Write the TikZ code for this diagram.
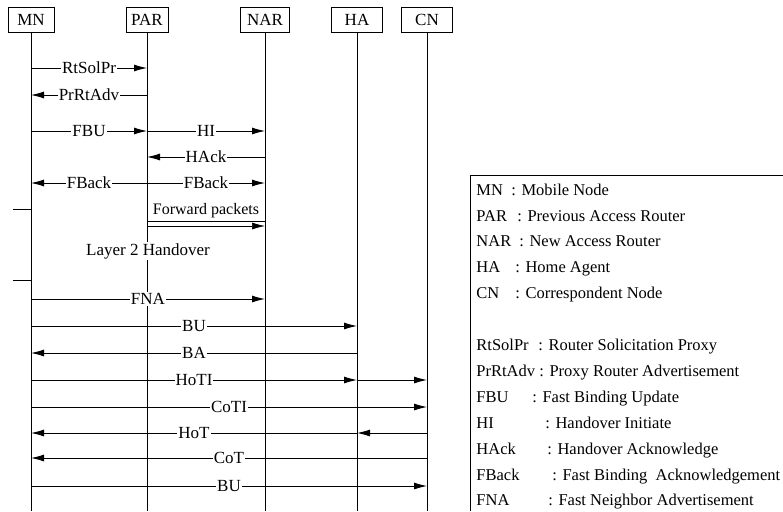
\documentclass[tikz,border=0pt]{standalone}
\usepackage{fontspec}
\setmainfont{Liberation Serif}
\usetikzlibrary{arrows.meta}

\begin{document}
\begin{tikzpicture}[x=1pt, y=-1pt, line width=0.9pt,
	every node/.style={font=\fontsize{17}{20}\selectfont},
	entity/.style={draw, minimum height=25pt, inner sep=2pt},
	msg/.style={-{Latex[length=13pt,width=7pt]}},
	msglabel/.style={fill=white, inner sep=1pt, midway},
	legend/.style={anchor=base west, inner sep=0pt, font=\fontsize{16.5}{19}\selectfont}]
	\useasboundingbox (0,0) rectangle (783,511);
	\node[entity, minimum width=46pt] (mn) at (31,20) {MN};
	\node[entity, minimum width=42pt] (par) at (147,20) {PAR};
	\node[entity, minimum width=49pt] (nar) at (265,20) {NAR};
	\node[entity, minimum width=51pt] (ha) at (357,20) {HA};
	\node[entity, minimum width=51pt] (cn) at (427,20) {CN};
	\foreach \n in {mn,par,nar,ha,cn} {\draw (\n) -- (\n |- 0,511);}
	\node[fill=white, inner sep=1pt] (l2) at (148,251) {Layer 2 Handover};
	\coordinate (l2start) at (13,209);
	\coordinate (l2end) at (13,280);
	\draw (l2start) -- (mn |- l2start);
	\draw (l2end) -- (mn |- l2end);
	\foreach \a/\b/\y/\t in {mn/par/68/RtSolPr, par/mn/95/PrRtAdv, mn/par/131/FBU, par/nar/131/HI,
		nar/par/157/HAck, par/mn/183/FBack, par/nar/183/FBack, mn/nar/299/FNA, mn/ha/326/BU,
		ha/mn/353/BA, mn/ha/380/HoTI, mn/cn/407/CoTI, ha/mn/433/HoT, cn/mn/458/CoT, mn/cn/486/BU} {
		\draw[msg] (\a |- 0,\y) -- node[msglabel] {\t} (\b |- 0,\y);
	}
	\draw[msg] (ha |- 0,380) -- (cn |- 0,380);
	\draw[msg] (cn |- 0,433) -- (ha |- 0,433);
	\node[font=\fontsize{16}{18}\selectfont] (fwd) at (206,211) {Forward packets};
	\draw[line width=0.7pt] (par |- 0,221) -- (nar |- 0,221);
	\draw[msg, line width=0.7pt] (par |- 0,226) -- (nar |- 0,226);
	\draw (783,175) -| (470,511);
	\foreach \k/\c/\d/\y in {MN/511/Mobile Node/195.5, PAR/517/Previous Access Router/221.5,
		NAR/519/New Access Router/246.5, HA/515/Home Agent/272.5, CN/515/Correspondent Node/298.5,
		RtSolPr/538/Router Solicitation Proxy/350.5, PrRtAdv/539/Proxy Router Advertisement/376.5,
		FBU/532/Fast Binding Update/402.5, HI/545/Handover Initiate/428.5,
		HAck/547/Handover Acknowledge/454.5, FBack/552/Fast Binding\ \ Acknowledgement/480.5,
		FNA/548/Fast Neighbor Advertisement/505.5} {
		\node[legend] at (476,\y) {\k};
		\node[legend] at (\c,\y) {: \d};
	}
\end{tikzpicture}
\end{document}
